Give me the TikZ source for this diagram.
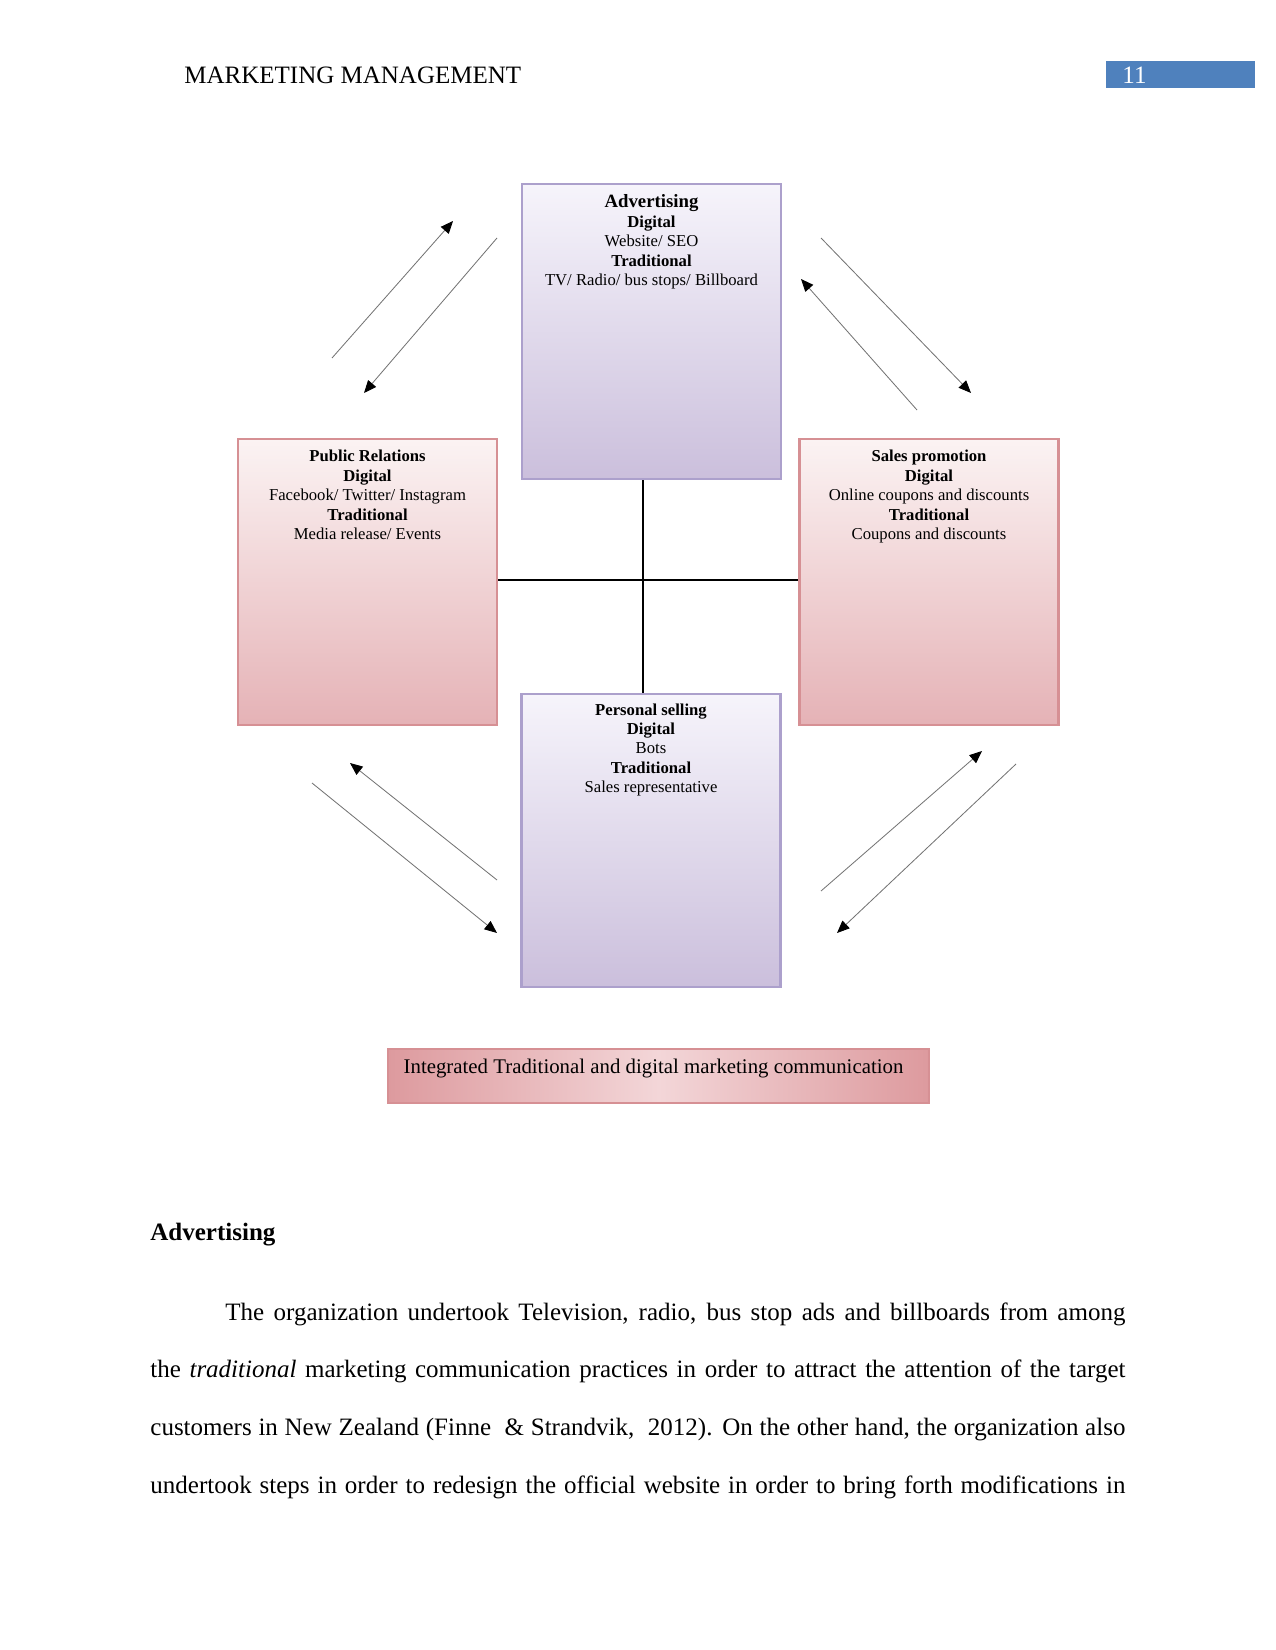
\documentclass[tikz,border=0pt]{standalone}
\usepackage{fontspec}
\setmainfont{Liberation Serif}
\usetikzlibrary{arrows.meta,calc,positioning}
\definecolor{lavendertop}{RGB}{246,244,251}
\definecolor{lavenderbot}{RGB}{203,191,220}
\definecolor{lavenderline}{RGB}{172,160,204}
\definecolor{pinktop}{RGB}{251,243,243}
\definecolor{pinkbot}{RGB}{229,178,182}
\definecolor{pinkline}{RGB}{214,144,148}
\definecolor{pinkmid}{RGB}{243,214,216}
\definecolor{pinkedge}{RGB}{221,154,158}
\definecolor{headerblue}{RGB}{79,129,189}
\tikzset{
  canal/.style={
    draw=lavenderline,
    line width=1pt,
    top color=lavendertop,
    bottom color=lavenderbot,
    minimum width=124.3pt,
    inner sep=0pt
  },
  canalrosa/.style={
    canal,
    draw=pinkline,
    top color=pinktop,
    bottom color=pinkbot
  },
  integrado/.style={
    draw=pinkline,
    line width=.8pt,
    left color=pinkedge,
    right color=pinkedge,
    middle color=pinkmid,
    minimum width=259.7pt,
    minimum height=25.9pt,
    inner sep=0pt
  },
  textocaja/.style={
    align=center,
    inner sep=0pt,
    font=\fontsize{8}{9.3}\selectfont
  },
  flecha/.style={
    -{Triangle[length=6pt,width=5pt,color=black]},
    line width=.4pt,
    black!55
  },
  enlace/.style={
    line width=.5pt,
    black
  }
}

\begin{document}
\begin{tikzpicture}[x=0.48pt,y=-0.48pt]
\useasboundingbox (0,0) rectangle (1275,1650);
% header
\node[anchor=base west, inner sep=0pt, font=\fontsize{12}{14}\selectfont] (titulo) at (184,84) {MARKETING MANAGEMENT};
\node[fill=headerblue, anchor=north west, minimum width=71.5pt, minimum height=13pt, inner sep=0pt] (pagina) at (1106,61) {};
\node[anchor=base west, inner sep=0pt, text=white, font=\fontsize{12}{14}\selectfont] (numero) at (1122,84) {11};

% the four channels
\node[canal, minimum height=141.6pt] (adv) at (651.5,331.5) {};
\node[canalrosa, minimum height=137.3pt] (pr) at (367.5,582) {};
\node[canalrosa, minimum height=137.3pt] (sp) at (929,582) {};
\node[canal, minimum height=140.6pt] (ps) at (651,840.5) {};

% texts (base = last line)
\node[textocaja, anchor=base] (advtxt) at ([yshift=-49.2pt]adv.north) {{\fontsize{9}{9.3}\selectfont\bfseries Advertising}\\\textbf{Digital}\\Website/ SEO\\\textbf{Traditional}\\TV/ Radio/ bus stops/ Billboard};
\node[textocaja, anchor=base] (prtxt) at ([yshift=-48.7pt]pr.north) {\textbf{Public Relations}\\\textbf{Digital}\\Facebook/ Twitter/ Instagram\\\textbf{Traditional}\\Media release/ Events};
\node[textocaja, anchor=base] (sptxt) at ([yshift=-48.7pt]sp.north) {\textbf{Sales promotion}\\\textbf{Digital}\\Online coupons and discounts\\\textbf{Traditional}\\Coupons and discounts};
\node[textocaja, anchor=base] (pstxt) at ([yshift=-47.8pt]ps.north) {\textbf{Personal selling}\\\textbf{Digital}\\Bots\\\textbf{Traditional}\\Sales representative};

% cross in the middle
\coordinate (hub) at (643,580);
\draw[enlace] (adv.south -| hub) -- (ps.north -| hub);
\draw[enlace] (pr.east |- hub) -- (sp.west |- hub);

% arrows between the channels
\coordinate (tlA) at (332,358); \coordinate (tlAe) at (453,221);
\coordinate (tlB) at (497,238); \coordinate (tlBe) at (364,393);
\coordinate (trA) at (821,238); \coordinate (trAe) at (971,393);
\coordinate (trB) at (917,410); \coordinate (trBe) at (801,279);
\coordinate (blA) at (312,783); \coordinate (blAe) at (497,933);
\coordinate (blB) at (497,880); \coordinate (blBe) at (350,763);
\coordinate (brA) at (821,891); \coordinate (brAe) at (982,751);
\coordinate (brB) at (1016,764); \coordinate (brBe) at (837,933);
\foreach \s in {tlA,tlB,trA,trB,blA,blB,brA,brB}
  \draw[flecha] (\s) -- (\s e);

% caption box
\node[integrado] (intg) at (658.5,1076) {};
\node[anchor=base, inner sep=0pt, font=\fontsize{10}{12}\selectfont] (intgtxt) at ([yshift=-12pt,xshift=-2.4pt]intg.north) {Integrated Traditional and digital marketing communication};

% body text
\node[anchor=base west, inner sep=0pt, font=\fontsize{12}{14}\selectfont\bfseries] (seccion) at (150,1240) {Advertising};
\node[anchor=base west, inner sep=0pt, text width=468pt, align=justify, font=\fontsize{12}{27.8}\selectfont] (parrafo) at (150,1320) {\hspace*{36pt}The organization undertook Television, radio, bus stop ads and billboards from among\linebreak the \textit{traditional} marketing communication practices in order to attract the attention of the target\linebreak customers in New Zealand (Finne \ \& Strandvik, \ 2012). On the other hand, the organization also\linebreak undertook steps in order to redesign the official website in order to bring forth modifications in\parfillskip=0pt\par};
\end{tikzpicture}
\end{document}
